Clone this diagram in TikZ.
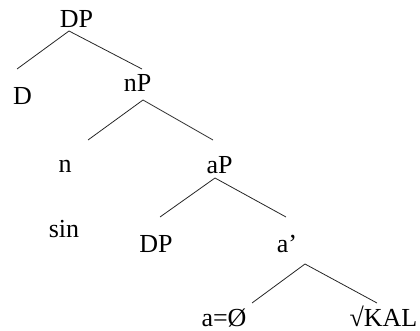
\documentclass[tikz,border=0pt]{standalone}
\usepackage{fontspec}
\setmainfont{Liberation Serif}
\begin{document}
\begin{tikzpicture}[x=1pt,y=-1pt,
  every node/.style={inner sep=0pt, anchor=base, font=\fontsize{26}{30}\selectfont},
  edge/.style={line width=0.8pt, black!85}]
\useasboundingbox (0,0) rectangle (420,331);
\node (dp)  at (76.5,28)  {DP};
\node (d)   at (22.5,105) {D};
\node (np)  at (137.5,92) {nP};
\node (n)   at (65,173)   {n};
\node (sin) at (64,237)   {sin};
\node (ap)  at (219.5,174) {aP};
\node (dp2) at (156,252)  {DP};
\node (abar) at (287,252) {a’};
\node (a0)  at (224,326)  {a=Ø};
\node (kal) at (383.5,326) {√KAL};
\draw[edge] ([shift={(-7.5,3)}]dp.base) -- ([shift={(-5.5,-36)}]d.base);
\draw[edge] ([shift={(-7.5,3)}]dp.base) -- ([shift={(4.5,-23)}]np.base);
\draw[edge] ([shift={(5.5,8)}]np.base) -- ([shift={(23,-33)}]n.base);
\draw[edge] ([shift={(5.5,8)}]np.base) -- ([shift={(-6.5,-34)}]ap.base);
\draw[edge] ([shift={(-4.5,4)}]ap.base) -- ([shift={(4,-35)}]dp2.base);
\draw[edge] ([shift={(-4.5,4)}]ap.base) -- ([shift={(-1,-35)}]abar.base);
\draw[edge] ([shift={(18,12)}]abar.base) -- ([shift={(28,-23)}]a0.base);
\draw[edge] ([shift={(18,12)}]abar.base) -- ([shift={(-6.5,-23)}]kal.base);
\end{tikzpicture}
\end{document}
